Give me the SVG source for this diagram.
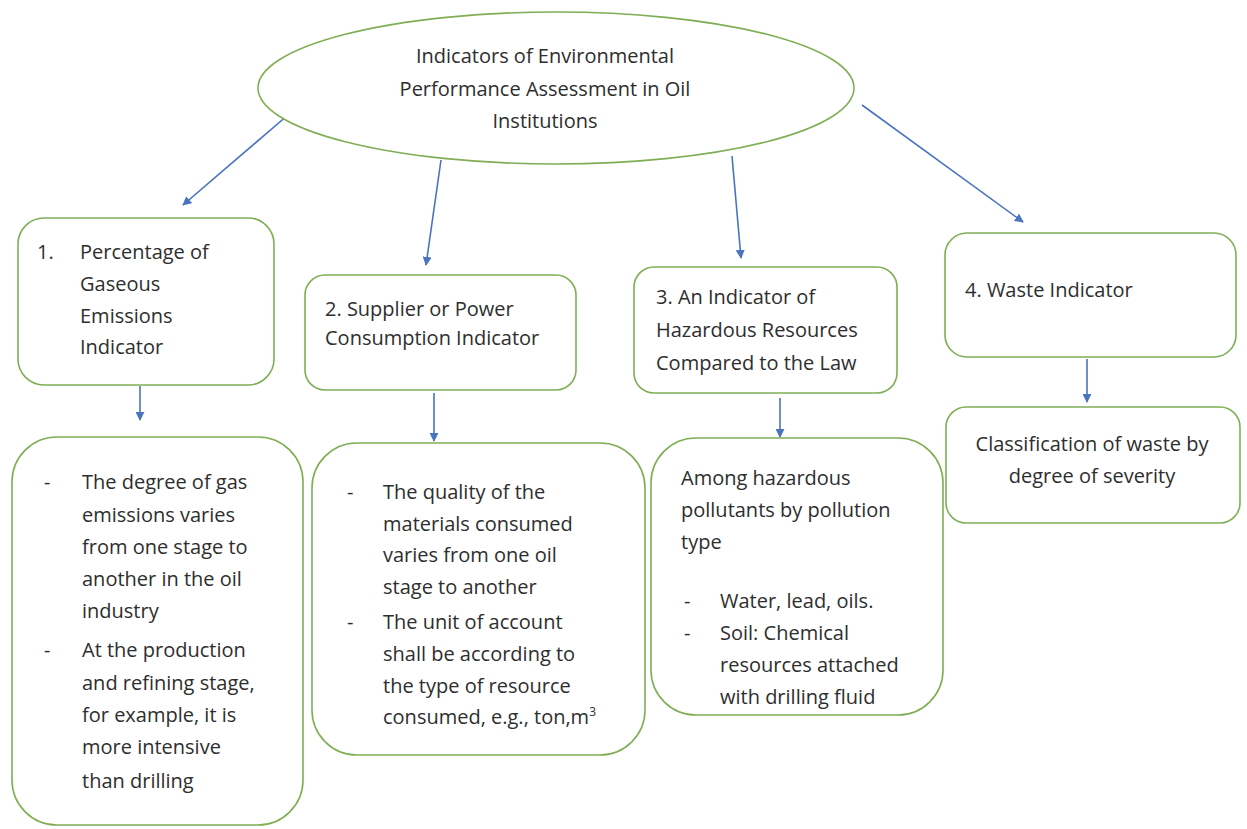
<svg xmlns="http://www.w3.org/2000/svg" width="1247" height="829" viewBox="0 0 1247 829">
  <style>
    .box { fill: #ffffff; stroke: #7fae55; stroke-width: 1.6; }
    .t { font-family: "Open Sans", "Noto Sans", "Liberation Sans", sans-serif; font-size: 20px; fill: #2e2e2e; }
    .c { text-anchor: middle; }
    .conn { stroke: #4a74c0; stroke-width: 1.6; fill: none; marker-end: url(#arr); }
  </style>
  <defs>
    <marker id="arr" viewBox="0 0 10 10" refX="9" refY="5" markerWidth="9" markerHeight="9" markerUnits="userSpaceOnUse" orient="auto">
      <path d="M0,0 L10,5 L0,10 z" fill="#4a74c0"/>
    </marker>
  </defs>
  <rect width="1247" height="829" fill="#ffffff"/>

  <g id="connectors">
    <line class="conn" x1="288" y1="115" x2="183" y2="205"/>
    <line class="conn" x1="441" y1="160" x2="426" y2="265"/>
    <line class="conn" x1="732" y1="156" x2="741" y2="258"/>
    <line class="conn" x1="862" y1="105" x2="1023" y2="222"/>
    <line class="conn" x1="140" y1="386" x2="140" y2="420"/>
    <line class="conn" x1="434" y1="393" x2="434" y2="441"/>
    <line class="conn" x1="780" y1="398" x2="780" y2="437"/>
    <line class="conn" x1="1087" y1="359" x2="1087" y2="402"/>
  </g>

  <g id="root">
    <ellipse class="box" cx="556" cy="88" rx="298" ry="76"/>
    <text class="t c" x="545" y="63">Indicators of Environmental</text>
    <text class="t c" x="545" y="96">Performance Assessment in Oil</text>
    <text class="t c" x="545" y="128">Institutions</text>
  </g>

  <g id="ind1">
    <rect class="box" x="18" y="218" width="256" height="167" rx="26"/>
    <text class="t" x="37" y="259">1.</text>
    <text class="t" x="80" y="259">Percentage of</text>
    <text class="t" x="80" y="291">Gaseous</text>
    <text class="t" x="80" y="323">Emissions</text>
    <text class="t" x="80" y="354">Indicator</text>
  </g>

  <g id="ind1-detail">
    <rect class="box" x="12" y="437" width="291" height="388" rx="45"/>
    <text class="t" x="44" y="489">-</text>
    <text class="t" x="82" y="489">The degree of gas</text>
    <text class="t" x="82" y="522">emissions varies</text>
    <text class="t" x="82" y="554">from one stage to</text>
    <text class="t" x="82" y="586">another in the oil</text>
    <text class="t" x="82" y="618">industry</text>
    <text class="t" x="44" y="657">-</text>
    <text class="t" x="82" y="657">At the production</text>
    <text class="t" x="82" y="690">and refining stage,</text>
    <text class="t" x="82" y="722">for example, it is</text>
    <text class="t" x="82" y="754">more intensive</text>
    <text class="t" x="82" y="788">than drilling</text>
  </g>

  <g id="ind2">
    <rect class="box" x="305" y="275" width="271" height="115" rx="20"/>
    <text class="t" x="325" y="316">2. Supplier or Power</text>
    <text class="t" x="325" y="345">Consumption Indicator</text>
  </g>

  <g id="ind2-detail">
    <rect class="box" x="312" y="443" width="333" height="312" rx="45"/>
    <text class="t" x="347" y="499">-</text>
    <text class="t" x="383" y="499">The quality of the</text>
    <text class="t" x="383" y="531">materials consumed</text>
    <text class="t" x="383" y="562">varies from one oil</text>
    <text class="t" x="383" y="594">stage to another</text>
    <text class="t" x="347" y="629">-</text>
    <text class="t" x="383" y="629">The unit of account</text>
    <text class="t" x="383" y="661">shall be according to</text>
    <text class="t" x="383" y="693">the type of resource</text>
    <text class="t" x="383" y="724">consumed, e.g., ton,m<tspan font-size="12" dy="-8">3</tspan></text>
  </g>

  <g id="ind3">
    <rect class="box" x="634" y="267" width="263" height="126" rx="20"/>
    <text class="t" x="656" y="304">3. An Indicator of</text>
    <text class="t" x="656" y="337">Hazardous Resources</text>
    <text class="t" x="656" y="370">Compared to the Law</text>
  </g>

  <g id="ind3-detail">
    <rect class="box" x="651" y="438" width="292" height="277" rx="45"/>
    <text class="t" x="681" y="485">Among hazardous</text>
    <text class="t" x="681" y="517">pollutants by pollution</text>
    <text class="t" x="681" y="549">type</text>
    <text class="t" x="684" y="608">-</text>
    <text class="t" x="720" y="608">Water, lead, oils.</text>
    <text class="t" x="684" y="640">-</text>
    <text class="t" x="720" y="640">Soil: Chemical</text>
    <text class="t" x="720" y="672">resources attached</text>
    <text class="t" x="720" y="704">with drilling fluid</text>
  </g>

  <g id="ind4">
    <rect class="box" x="945" y="233" width="291" height="124" rx="22"/>
    <text class="t" x="965" y="297">4. Waste Indicator</text>
  </g>

  <g id="ind4-detail">
    <rect class="box" x="946" y="407" width="294" height="116" rx="20"/>
    <text class="t c" x="1092" y="451">Classification of waste by</text>
    <text class="t c" x="1092" y="483">degree of severity</text>
  </g>
</svg>
